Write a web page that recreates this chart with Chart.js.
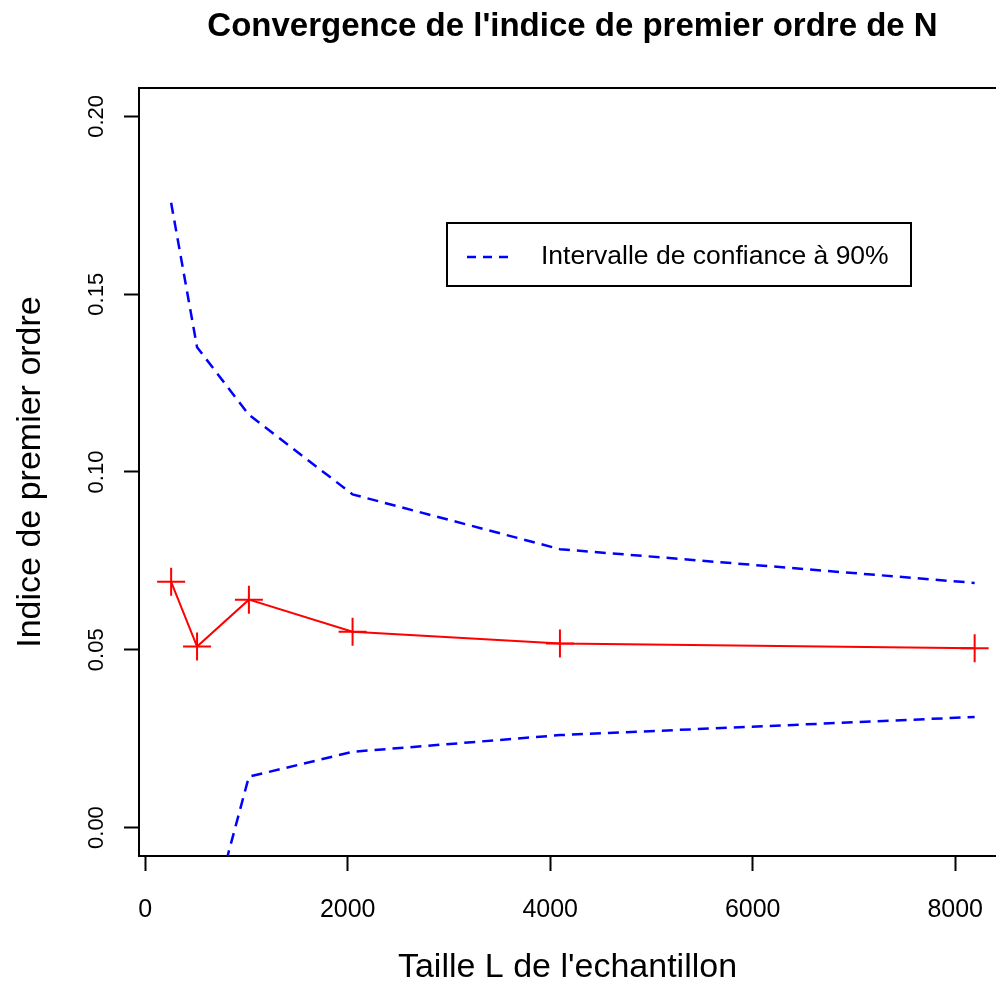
<!DOCTYPE html>
<html>
<head>
<meta charset="utf-8">
<script src="https://cdn.jsdelivr.net/npm/chart.js@4"></script>
<style>
  html, body { margin: 0; padding: 0; background: #fff; overflow: hidden; }
</style>
</head>
<body>
<canvas id="mychart" width="996" height="990"></canvas>
<script>
// Données
const tailles = [256, 512, 1024, 2048, 4096, 8192];
const indice = [0.0691, 0.0509, 0.0641, 0.0551, 0.0518, 0.0504];
const icHaut = [0.1757, 0.1351, 0.1161, 0.0937, 0.0783, 0.0688];
const icBas = [-0.045, -0.04, 0.0143, 0.0213, 0.026, 0.0311];

const xTicks = [0, 2000, 4000, 6000, 8000];
const yTicks = [0, 0.05, 0.1, 0.15, 0.2];

const titre = "Convergence de l'indice de premier ordre de N";
const legende = "Intervalle de confiance à 90%";

const police = "'Liberation Sans', Arial, sans-serif";

function pts(ys) {
  return tailles.map((t, i) => ({ x: t, y: ys[i] }));
}

// Titre, cadre et légende façon R
const cadreR = {
  id: "cadreR",
  afterDraw(chart) {
    const c = chart.ctx;
    const a = chart.chartArea;
    c.save();
    // cadre (le bord droit sort de l'image dans l'original)
    c.strokeStyle = "#000";
    c.lineWidth = 2;
    c.beginPath();
    c.moveTo(a.left, a.top);
    c.lineTo(a.right + 10, a.top);
    c.stroke();
    // titre (centré sur le cadre complet, qui déborde de 10 px)
    c.fillStyle = "#000";
    c.font = "bold 33px " + police;
    c.textAlign = "center";
    c.textBaseline = "middle";
    c.fillText(titre, (a.left + a.right + 10) / 2, 27);
    // légende
    c.lineWidth = 2;
    c.strokeRect(447, 223, 464, 63);
    c.strokeStyle = "blue";
    c.lineWidth = 2.5;
    c.setLineDash([9, 7]);
    c.beginPath();
    c.moveTo(467, 257);
    c.lineTo(515, 257);
    c.stroke();
    c.setLineDash([]);
    c.fillStyle = "#000";
    c.font = "26.5px " + police;
    c.textAlign = "left";
    c.fillText(legende, 541, 257);
    c.restore();
  },
};

const ctx = document.getElementById("mychart").getContext("2d");
const mychart = new Chart(ctx, {
  type: "line",
  data: {
    datasets: [
      {
        label: "Indice",
        data: pts(indice),
        borderColor: "red",
        borderWidth: 2,
        pointStyle: "cross",
        pointRadius: 14,
        pointBorderWidth: 2,
        pointBorderColor: "red",
        pointHoverRadius: 14,
        fill: false,
        tension: 0,
      },
      {
        label: legende,
        data: pts(icHaut),
        borderColor: "blue",
        borderWidth: 2.5,
        borderDash: [11, 7],
        pointRadius: 0,
        fill: false,
        tension: 0,
      },
      {
        label: legende,
        data: pts(icBas),
        borderColor: "blue",
        borderWidth: 2.5,
        borderDash: [11, 7],
        pointRadius: 0,
        fill: false,
        tension: 0,
      },
    ],
  },
  options: {
    responsive: false,
    animation: false,
    events: [],
    layout: { autoPadding: false, padding: { top: 88, right: 0, left: 0, bottom: 0 } },
    plugins: {
      legend: { display: false },
      tooltip: { enabled: false },
    },
    scales: {
      x: {
        type: "linear",
        min: -61.4,
        max: 8402.8,
        afterBuildTicks: (s) => { s.ticks = xTicks.map((v) => ({ value: v })); },
        afterFit: (s) => { s.height = 134; },
        border: { display: true, color: "#000", width: 2 },
        grid: { drawOnChartArea: false, drawTicks: true, tickLength: 15, color: "#000", tickWidth: 2 },
        ticks: {
          color: "#000",
          padding: 0,
          maxRotation: 0,
          // hauteur de ligne élargie pour descendre les libellés
          font: { family: police, size: 25, lineHeight: 3.1 },
          callback: (v) => String(v),
        },
        title: {
          display: true,
          text: "Taille L de l'echantillon",
          color: "#000",
          font: { family: police, size: 34 },
          padding: { top: 0, bottom: 2 },
        },
      },
      y: {
        min: -0.008,
        max: 0.208,
        afterBuildTicks: (s) => { s.ticks = yTicks.map((v) => ({ value: v })); },
        afterFit: (s) => { s.width = 139; },
        border: { display: true, color: "#000", width: 2 },
        grid: { drawOnChartArea: false, drawTicks: true, tickLength: 15, color: "#000", tickWidth: 2 },
        ticks: {
          color: "#000",
          padding: 6,
          minRotation: 90,
          maxRotation: 90,
          crossAlign: "center",
          font: { family: police, size: 22 },
          callback: (v) => v.toFixed(2),
        },
        title: {
          display: true,
          text: "Indice de premier ordre",
          color: "#000",
          font: { family: police, size: 34 },
          padding: { top: 10, bottom: 0 },
        },
      },
    },
  },
  plugins: [cadreR],
});
</script>
</body>
</html>
